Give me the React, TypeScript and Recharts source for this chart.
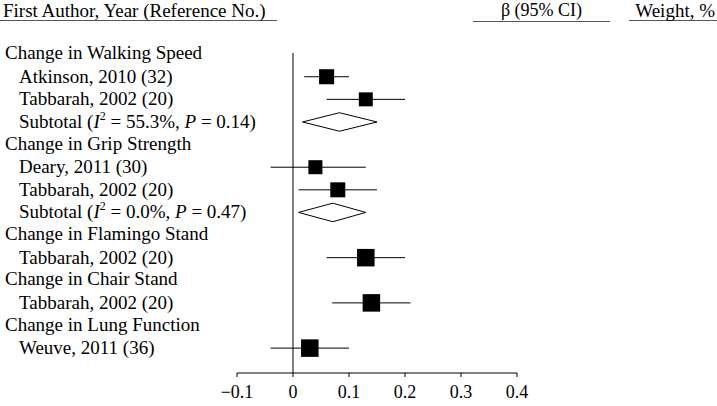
import React from 'react';
import { ScatterChart, Scatter, XAxis, YAxis, ReferenceLine, ErrorBar } from 'recharts';

// left column, one entry per row (top to bottom)
const rowLabels = [
  'Change in Walking Speed',
  'Atkinson, 2010 (32)',
  'Tabbarah, 2002 (20)',
  'Subtotal',
  'Change in Grip Strength',
  'Deary, 2011 (30)',
  'Tabbarah, 2002 (20)',
  'Subtotal',
  'Change in Flamingo Stand',
  'Tabbarah, 2002 (20)',
  'Change in Chair Stand',
  'Tabbarah, 2002 (20)',
  'Change in Lung Function',
  'Weuve, 2011 (36)',
];
const groupRows = [0, 4, 8, 10, 12];

// individual studies
const studyRows = [1, 2, 5, 6, 9, 11, 13];
const studyEst = [0.06, 0.13, 0.04, 0.08, 0.13, 0.14, 0.03];
const studyLow = [0.02, 0.06, -0.04, 0.01, 0.06, 0.07, -0.04];
const studyHigh = [0.1, 0.2, 0.13, 0.15, 0.2, 0.21, 0.1];
const studyWeight = [59.0, 41.0, 41.8, 58.2, 100.0, 100.0, 100.0];
const studyCI = [
  '0.06 (0.02, 0.11)',
  '0.13 (0.06, 0.20)',
  '0.04 (\u22120.04, 0.13)',
  '0.08 (0.01, 0.16)',
  '0.13 (0.06, 0.20)',
  '0.14 (0.07, 0.22)',
  '0.03 (\u22120.04, 0.09)',
];

// pooled subtotals
const pooledRows = [3, 7];
const pooledEst = [0.083, 0.071];
const pooledLow = [0.017, 0.01];
const pooledHigh = [0.15, 0.13];
const pooledI2 = ['55.3%', '0.0%'];
const pooledP = ['0.14', '0.47'];
const pooledCI = ['0.09 (0.03, 0.15)', '0.05 (0.01, 0.12)'];
const pooledWeight = ['100.0', '100.0'];

const xTicks = [-0.1, 0, 0.1, 0.2, 0.3, 0.4];

const SERIF = 'Liberation Serif';

const studyData = studyRows.map((row, i) => ({
  row,
  x: studyEst[i],
  weight: studyWeight[i],
  err: [studyEst[i] - studyLow[i], studyHigh[i] - studyEst[i]],
}));

const rightText: Record<number, { ci: string; w: string }> = {};
studyRows.forEach((r, i) => (rightText[r] = { ci: studyCI[i], w: studyWeight[i].toFixed(1) }));
pooledRows.forEach((r, i) => (rightText[r] = { ci: pooledCI[i], w: pooledWeight[i] }));

const rowTicks = rowLabels.map((_, i) => i);
const rightTicks = [...studyRows, ...pooledRows].sort((a, b) => a - b);

const DIAMOND_HALF = 0.41; // in row units

function Square(props: any) {
  const { cx, cy, payload } = props;
  const s = 11.5 + 0.06 * payload.weight;
  return <rect x={cx - s / 2} y={cy - s / 2} width={s} height={s} fill="#000" />;
}

function LeftTick(props: any) {
  const { x, y, payload } = props;
  const i = payload.value as number;
  const isGroup = groupRows.includes(i);
  const tx = isGroup ? x - 232 : x - 218;
  const p = pooledRows.indexOf(i);
  const st = { fontFamily: SERIF, fontSize: 19 };
  if (p >= 0) {
    return (
      <text x={tx} y={y} dy={6} style={st} fill="#000">
        <tspan>Subtotal (</tspan>
        <tspan fontStyle="italic">I</tspan>
        <tspan dy={-8} style={{ fontSize: 12 }}>2</tspan>
        <tspan dy={8}>{` = ${pooledI2[p]}, `}</tspan>
        <tspan fontStyle="italic">P</tspan>
        <tspan>{` = ${pooledP[p]})`}</tspan>
      </text>
    );
  }
  return (
    <text x={tx} y={y} dy={isGroup ? 5 : 6} style={st} fill="#000">
      {rowLabels[i]}
    </text>
  );
}

function RightTick(props: any) {
  const { x, y, payload } = props;
  const t = rightText[payload.value as number];
  if (!t) return null;
  const st = { fontFamily: SERIF, fontSize: 19 };
  return (
    <g>
      <text x={x - 43} y={y} dy={4} style={st} fill="#000">{t.ci}</text>
      <text x={x + 175} y={y} dy={4} style={st} fill="#000" textAnchor="end">{t.w}</text>
    </g>
  );
}

const fmtX = (v: number) => (v === 0 ? '0' : v < 0 ? '\u2212' + Math.abs(v).toFixed(1) : v.toFixed(1));

export default function App() {
  return (
    <div style={{ position: 'relative', width: 717, height: 406, background: '#fff' }}>
      <style>{'body{margin:0}'}</style>
      <div style={{ position: 'absolute', left: 0, top: 0, width: 717, height: 30, fontFamily: SERIF, fontSize: 19, color: '#000' }}>
        <div style={{ position: 'absolute', left: 0, top: 0, width: 277, height: 21, borderBottom: '1px solid #555', lineHeight: '21px', paddingLeft: 3, boxSizing: 'border-box', whiteSpace: 'nowrap' }}>
          First Author, Year (Reference No.)
        </div>
        <div style={{ position: 'absolute', left: 473, top: 0, width: 137, height: 21, borderBottom: '1px solid #555', lineHeight: '21px', textAlign: 'center', fontSize: 18, whiteSpace: 'nowrap' }}>
          β (95% CI)
        </div>
        <div style={{ position: 'absolute', left: 629, top: 0, width: 88, height: 21, borderBottom: '1px solid #555', lineHeight: '21px', textAlign: 'right', paddingRight: 2, boxSizing: 'border-box', whiteSpace: 'nowrap' }}>
          Weight, %
        </div>
      </div>
      <ScatterChart width={717} height={406} margin={{ top: 53, right: 0, bottom: 0, left: 0 }}>
        <XAxis
          type="number"
          dataKey="x"
          domain={[-0.1, 0.4]}
          ticks={xTicks}
          tickFormatter={fmtX}
          height={33}
          tickSize={4}
          tickMargin={8}
          stroke="#000"
          tick={{ fill: '#000', fontSize: 18, fontFamily: SERIF }}
        />
        <YAxis
          yAxisId="left"
          type="number"
          dataKey="row"
          domain={[-0.05, 14.1]}
          reversed
          width={237}
          ticks={rowTicks}
          interval={0}
          axisLine={false}
          tickLine={false}
          tickSize={0}
          tickMargin={0}
          tick={(p: any) => <LeftTick {...p} />}
        />
        <YAxis
          yAxisId="right"
          orientation="right"
          type="number"
          dataKey="row"
          domain={[-0.05, 14.1]}
          reversed
          width={200}
          ticks={rightTicks}
          interval={0}
          axisLine={false}
          tickLine={false}
          tickSize={0}
          tickMargin={0}
          tick={(p: any) => <RightTick {...p} />}
        />
        <ReferenceLine yAxisId="left" x={0} stroke="#000" strokeWidth={1} />
        {pooledRows.map((r, i) => (
          <React.Fragment key={r}>
            <ReferenceLine yAxisId="left" stroke="#000" segment={[{ x: pooledLow[i], y: r }, { x: pooledEst[i], y: r - DIAMOND_HALF }]} />
            <ReferenceLine yAxisId="left" stroke="#000" segment={[{ x: pooledEst[i], y: r - DIAMOND_HALF }, { x: pooledHigh[i], y: r }]} />
            <ReferenceLine yAxisId="left" stroke="#000" segment={[{ x: pooledHigh[i], y: r }, { x: pooledEst[i], y: r + DIAMOND_HALF }]} />
            <ReferenceLine yAxisId="left" stroke="#000" segment={[{ x: pooledEst[i], y: r + DIAMOND_HALF }, { x: pooledLow[i], y: r }]} />
          </React.Fragment>
        ))}
        <Scatter yAxisId="left" data={studyData} shape={<Square />} isAnimationActive={false}>
          <ErrorBar dataKey="err" direction="x" width={0} stroke="#000" strokeWidth={1} />
        </Scatter>
      </ScatterChart>
    </div>
  );
}
